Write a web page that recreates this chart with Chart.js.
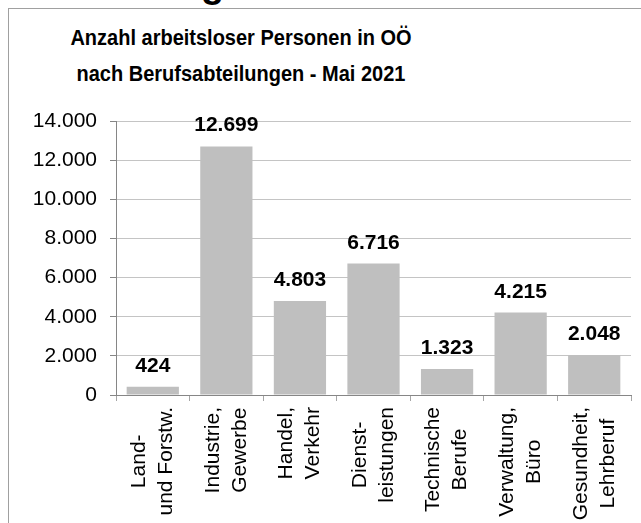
<!DOCTYPE html>
<html><head><meta charset="utf-8">
<script src="https://cdn.jsdelivr.net/npm/chart.js@4/dist/chart.umd.min.js"></script>
<style>
html,body{margin:0;padding:0;background:#fff;}
#wrap{position:relative;width:641px;height:523px;overflow:hidden;font-family:"Liberation Sans",Arial,sans-serif;}
#frame{position:absolute;left:8px;top:8px;width:640px;height:520px;border-left:1px solid #a0a0a0;border-top:1px solid #a0a0a0;}
#cut{position:absolute;left:201px;top:-35px;font:bold 38px/38px "Liberation Sans",Arial,sans-serif;color:#000;}
#title{position:absolute;left:41px;top:19px;width:400px;text-align:center;font:bold 20px/32px "Liberation Sans",Arial,sans-serif;color:#000;transform:scaleY(1.12);transform-origin:50% 0;}
canvas{position:absolute;left:0;top:0;}
</style>
</head><body>
<div id="wrap">
<div id="cut">g</div>
<div id="frame"></div>
<div id="title">Anzahl arbeitsloser Personen in OÖ<br>nach Berufsabteilungen - Mai 2021</div>
<canvas id="c" width="641" height="523"></canvas>
</div>
<script>
const categories = [
  ["Land-", "und Forstw."],
  ["Industrie,", "Gewerbe"],
  ["Handel,", "Verkehr"],
  ["Dienst-", "leistungen"],
  ["Technische", "Berufe"],
  ["Verwaltung,", "Büro"],
  ["Gesundheit,", "Lehrberuf"]
];
const values = [424, 12699, 4803, 6716, 1323, 4215, 2048];
const yMin = 0, yMax = 14000, yStep = 2000;

function fmt(v) { return String(v).replace(/\B(?=(\d{3})+(?!\d))/g, "."); }

const FONT = '"Liberation Sans", Arial, sans-serif';

const valueLabels = {
  id: 'valueLabels',
  afterDatasetsDraw(chart) {
    const ctx = chart.ctx;
    const meta = chart.getDatasetMeta(0);
    ctx.save();
    ctx.font = 'bold 21px ' + FONT;
    ctx.fillStyle = '#000';
    ctx.textAlign = 'center';
    ctx.textBaseline = 'alphabetic';
    meta.data.forEach((bar, i) => {
      ctx.fillText(fmt(values[i]), bar.x, bar.y - 15);
    });
    ctx.restore();
  }
};

const catLabels = {
  id: 'catLabels',
  afterDraw(chart) {
    const ctx = chart.ctx;
    const xs = chart.scales.x;
    const top = xs.top + 12;
    const lh = 27;
    ctx.save();
    ctx.font = '21px ' + FONT;
    ctx.fillStyle = '#000';
    ctx.textAlign = 'center';
    ctx.textBaseline = 'middle';
    categories.forEach((lines, i) => {
      const cx = xs.getPixelForValue(i);
      const L = Math.max(...lines.map(t => ctx.measureText(t).width));
      ctx.save();
      ctx.translate(cx, top + L / 2);
      ctx.rotate(-Math.PI / 2);
      lines.forEach((t, j) => {
        ctx.fillText(t, 0, (j - (lines.length - 1) / 2) * lh);
      });
      ctx.restore();
    });
    ctx.restore();
  }
};

new Chart(document.getElementById('c'), {
  type: 'bar',
  data: {
    labels: categories.map(l => l.join(' ')),
    datasets: [{
      data: values,
      backgroundColor: '#bfbfbf',
      borderWidth: 0,
      categoryPercentage: 1,
      barPercentage: 0.71
    }]
  },
  options: {
    responsive: false,
    animation: false,
    events: [],
    layout: { padding: { top: 121, right: 10, bottom: 0, left: 0 } },
    plugins: { legend: { display: false }, title: { display: false }, tooltip: { enabled: false } },
    scales: {
      x: {
        afterFit(s) { s.height = 128; },
        grid: {
          display: true, drawOnChartArea: false, drawTicks: true, tickLength: 6,
          offset: true, color: '#a6a6a6', tickColor: '#a6a6a6', lineWidth: 1
        },
        border: { display: true, color: '#868686', width: 1 },
        ticks: { display: false }
      },
      y: {
        min: yMin, max: yMax,
        afterFit(s) { s.width = 116; },
        grid: {
          color: '#c4c4c4', lineWidth: 1, borderDash: [3, 2],
          tickLength: 6, tickColor: '#868686', tickBorderDash: [], drawTicks: true
        },
        border: { display: true, color: '#868686', width: 1 },
        ticks: {
          stepSize: yStep, padding: 13, color: '#000',
          font: { family: FONT, size: 21 },
          callback: v => fmt(v)
        }
      }
    }
  },
  plugins: [valueLabels, catLabels]
});
</script>
</body></html>
